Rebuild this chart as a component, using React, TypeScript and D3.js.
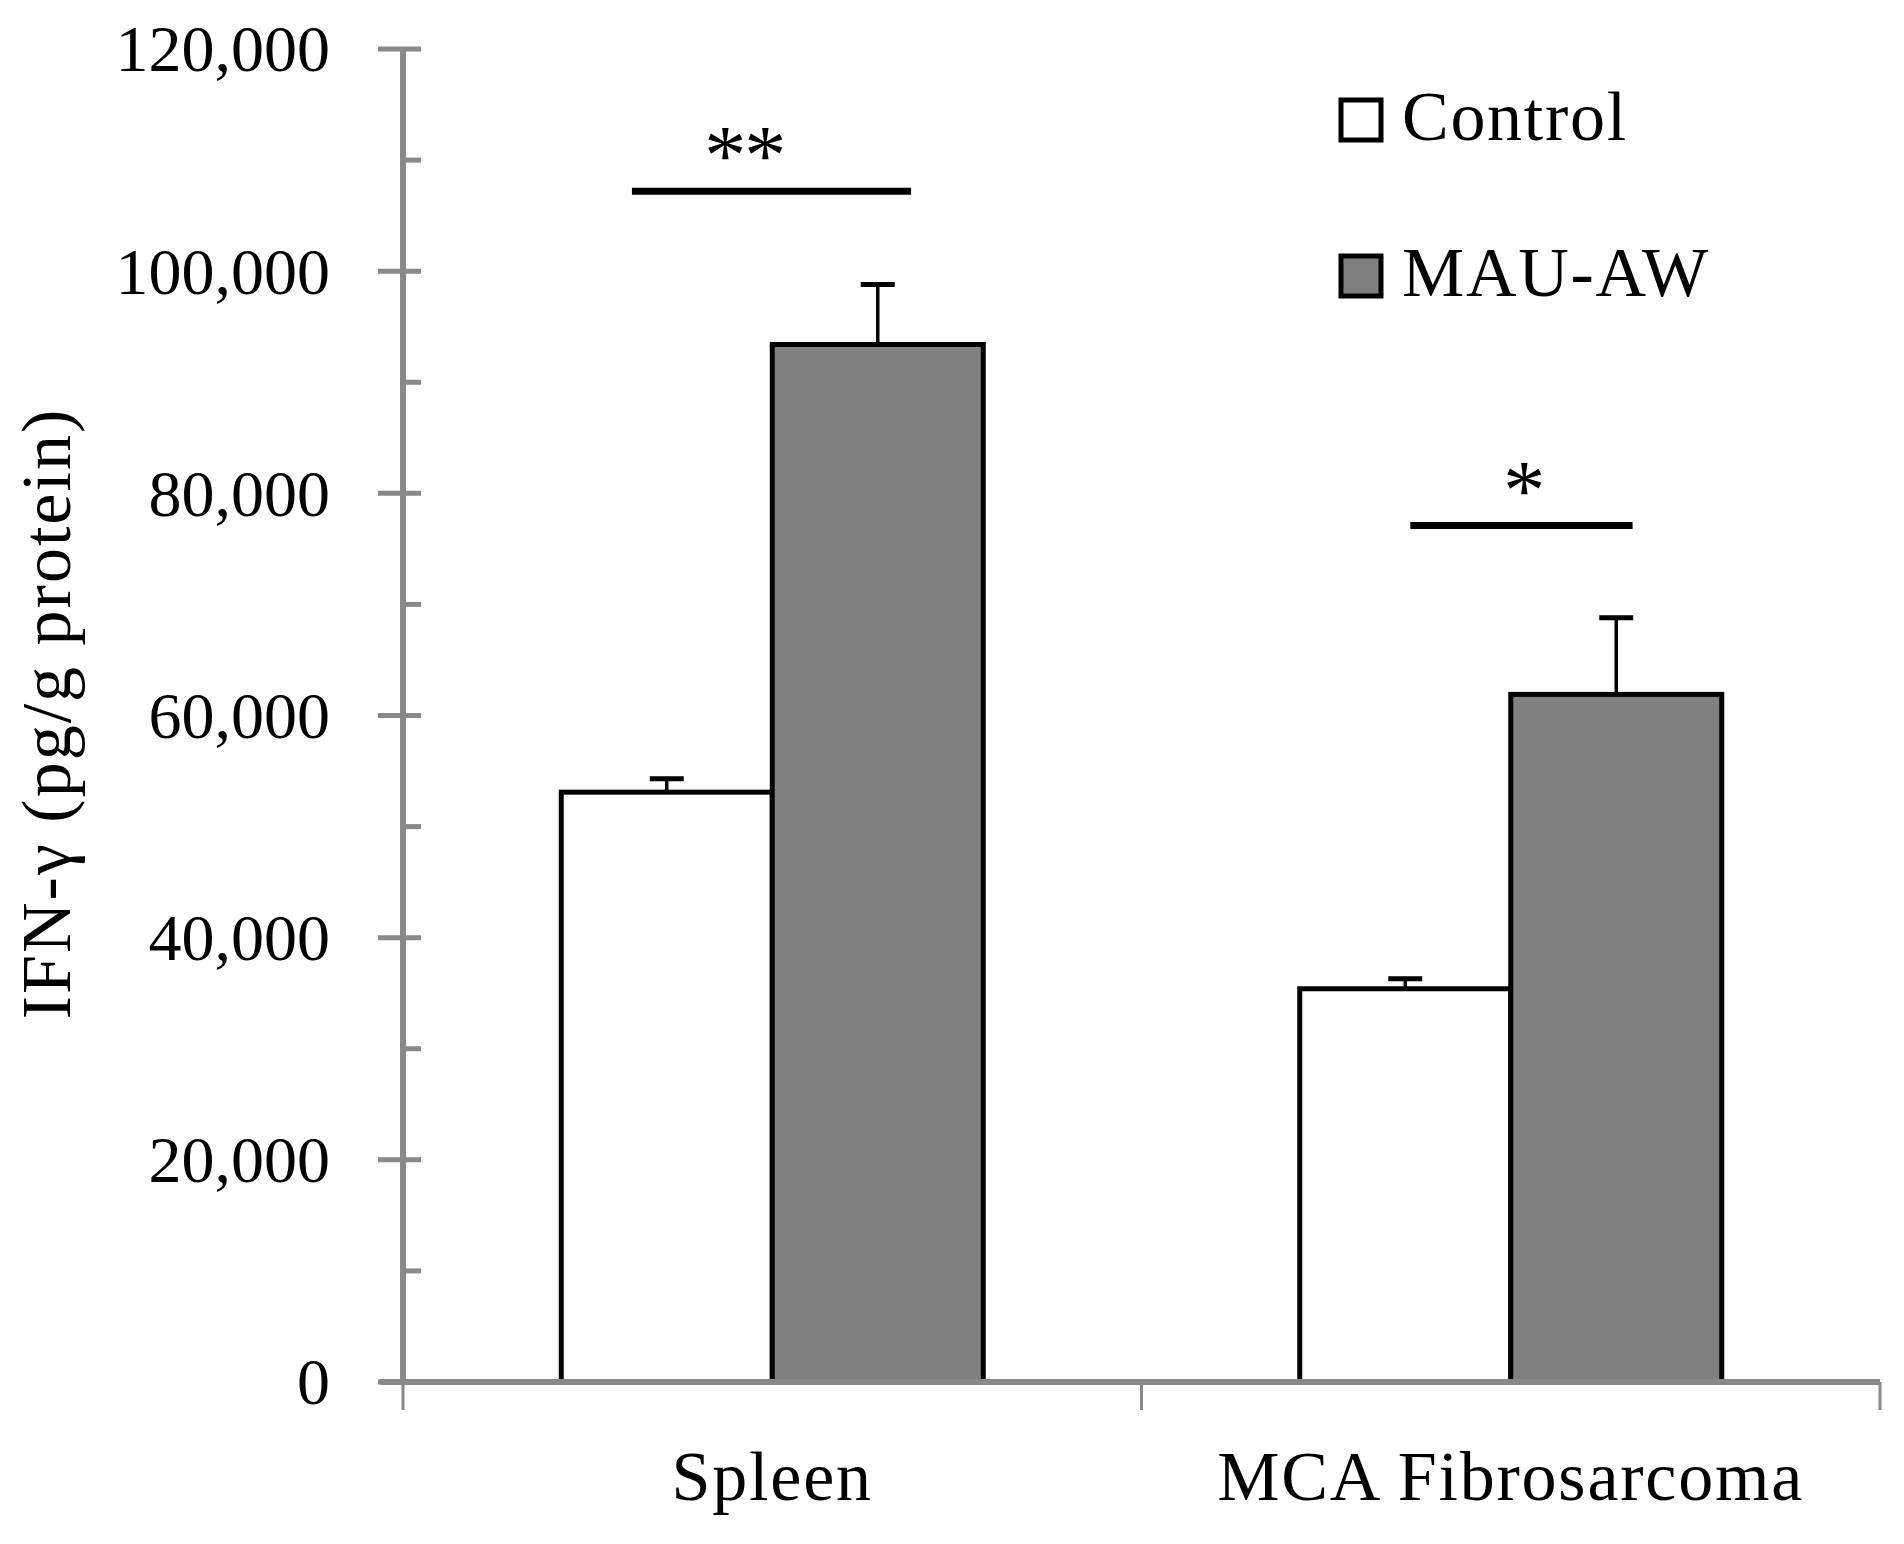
import React, { useEffect, useRef } from "react";
import * as d3 from "d3";

const categories = ["Spleen", "MCA Fibrosarcoma"];
const seriesNames = ["Control", "MAU-AW"];
const controlValues = [53100, 35400];
const mauValues = [93400, 61900];
const controlErrors = [1200, 900];
const mauErrors = [5400, 6900];
const yTicks = [0, 20000, 40000, 60000, 80000, 100000, 120000];
const yMinorTicks = [10000, 30000, 50000, 70000, 90000, 110000];

// significance markers, one per category
const sigLabels = ["**", "*"];
const sigLevels = [107200, 77100];
const sigSpans = [
  [0.31, 0.688],
  [0.364, 0.665],
];
const sigLabelPos = [0.462, 0.517];

const W = 1904;
const H = 1544;
const FONT = "'Liberation Serif', 'Times New Roman', serif";
const AXIS_GREY = "#898989";
const fills = ["#ffffff", "#808080"];

export default function App() {
  const svgRef = useRef<SVGSVGElement>(null);

  useEffect(() => {
    if (!svgRef.current) return;
    const svg = d3.select(svgRef.current);
    svg.selectAll("*").remove();

    const x0 = d3.scaleBand<string>().domain(categories).range([403, 1880]).padding(0);
    const x1 = d3
      .scaleBand<string>()
      .domain(seriesNames)
      .range([0, x0.bandwidth()])
      .paddingInner(0)
      .paddingOuter(0.75);
    const y = d3.scaleLinear().domain([0, 120000]).range([1382, 49]);
    const fmt = d3.format(",");

    const rows = categories.map((c, i) => ({
      category: c,
      bars: [
        { series: seriesNames[0], value: controlValues[i], err: controlErrors[i] },
        { series: seriesNames[1], value: mauValues[i], err: mauErrors[i] },
      ],
    }));

    // Y axis
    const yAxis = svg.append("g");
    yAxis
      .append("line")
      .attr("x1", 403)
      .attr("x2", 403)
      .attr("y1", y(120000))
      .attr("y2", y(0))
      .attr("stroke", AXIS_GREY)
      .attr("stroke-width", 6);
    yAxis
      .selectAll(".major")
      .data(yTicks)
      .join("line")
      .attr("x1", 378)
      .attr("x2", 421)
      .attr("y1", d => y(d))
      .attr("y2", d => y(d))
      .attr("stroke", AXIS_GREY)
      .attr("stroke-width", 5);
    yAxis
      .selectAll(".minor")
      .data(yMinorTicks)
      .join("line")
      .attr("x1", 403)
      .attr("x2", 421)
      .attr("y1", d => y(d))
      .attr("y2", d => y(d))
      .attr("stroke", AXIS_GREY)
      .attr("stroke-width", 5);
    yAxis
      .selectAll("text")
      .data(yTicks)
      .join("text")
      .attr("x", 330)
      .attr("y", d => y(d))
      .attr("dy", "0.34em")
      .attr("text-anchor", "end")
      .attr("font-family", FONT)
      .attr("font-size", 66)
      .attr("fill", "#000")
      .text(d => fmt(d));

    svg
      .append("text")
      .attr("transform", `translate(70, ${(1018 + 409) / 2}) rotate(-90)`)
      .attr("text-anchor", "middle")
      .attr("font-family", FONT)
      .attr("font-size", 70)
      .attr("letter-spacing", 2)
      .attr("fill", "#000")
      .text("IFN-γ (pg/g protein)");

    // Bars
    const groups = svg
      .selectAll(".group")
      .data(rows)
      .join("g")
      .attr("transform", d => `translate(${x0(d.category)},0)`);

    groups
      .selectAll("rect")
      .data(d => d.bars)
      .join("rect")
      .attr("x", d => x1(d.series)!)
      .attr("y", d => y(d.value))
      .attr("width", x1.bandwidth())
      .attr("height", d => y(0) - y(d.value))
      .attr("fill", (d, i) => fills[i])
      .attr("stroke", "#000")
      .attr("stroke-width", 5);

    // Error bars (upper only)
    const errs = groups
      .selectAll(".err")
      .data(d => d.bars)
      .join("g")
      .attr("class", "err");
    errs
      .append("line")
      .attr("x1", d => x1(d.series)! + x1.bandwidth() / 2)
      .attr("x2", d => x1(d.series)! + x1.bandwidth() / 2)
      .attr("y1", d => y(d.value))
      .attr("y2", d => y(d.value + d.err))
      .attr("stroke", "#000")
      .attr("stroke-width", 3.5);
    errs
      .append("line")
      .attr("x1", d => x1(d.series)! + x1.bandwidth() / 2 - 17)
      .attr("x2", d => x1(d.series)! + x1.bandwidth() / 2 + 17)
      .attr("y1", d => y(d.value + d.err))
      .attr("y2", d => y(d.value + d.err))
      .attr("stroke", "#000")
      .attr("stroke-width", 5);

    // X axis
    svg
      .append("line")
      .attr("x1", 380)
      .attr("x2", x0.range()[1])
      .attr("y1", y(0))
      .attr("y2", y(0))
      .attr("stroke", AXIS_GREY)
      .attr("stroke-width", 6);
    const xTicks = [...categories.map(c => x0(c)!), x0.range()[1]];
    svg
      .selectAll(".xtick")
      .data(xTicks)
      .join("line")
      .attr("x1", d => d)
      .attr("x2", d => d)
      .attr("y1", y(0))
      .attr("y2", 1410)
      .attr("stroke", AXIS_GREY)
      .attr("stroke-width", 3);
    svg
      .selectAll(".xlabel")
      .data(categories)
      .join("text")
      .attr("x", d => x0(d)! + x0.bandwidth() / 2)
      .attr("y", 1500)
      .attr("text-anchor", "middle")
      .attr("font-family", FONT)
      .attr("font-size", 70)
      .attr("letter-spacing", 1.8)
      .attr("fill", "#000")
      .text(d => d);

    // Significance lines
    categories.forEach((c, i) => {
      const bx = x0(c)!;
      const bw = x0.bandwidth();
      svg
        .append("line")
        .attr("x1", bx + sigSpans[i][0] * bw)
        .attr("x2", bx + sigSpans[i][1] * bw)
        .attr("y1", y(sigLevels[i]))
        .attr("y2", y(sigLevels[i]))
        .attr("stroke", "#000")
        .attr("stroke-width", 7);
      svg
        .append("text")
        .attr("x", bx + sigLabelPos[i] * bw)
        .attr("y", y(sigLevels[i]) - 7)
        .attr("text-anchor", "middle")
        .attr("font-family", FONT)
        .attr("font-size", 84)
        .attr("letter-spacing", -2)
        .attr("fill", "#000")
        .text(sigLabels[i]);
    });

    // Legend
    const legend = svg
      .selectAll(".legend")
      .data(seriesNames)
      .join("g")
      .attr("transform", (d, i) => `translate(1341, ${100 + i * 156})`);
    legend
      .append("rect")
      .attr("width", 40)
      .attr("height", 40)
      .attr("fill", (d, i) => fills[i])
      .attr("stroke", "#000")
      .attr("stroke-width", 5);
    legend
      .append("text")
      .attr("x", 61)
      .attr("y", 40)
      .attr("font-family", FONT)
      .attr("font-size", 70)
      .attr("letter-spacing", 1.7)
      .attr("fill", "#000")
      .text(d => d);
  }, []);

  return (
    <svg
      ref={svgRef}
      width={W}
      height={H}
      style={{ position: "absolute", left: 0, top: 0, background: "#fff" }}
    />
  );
}
